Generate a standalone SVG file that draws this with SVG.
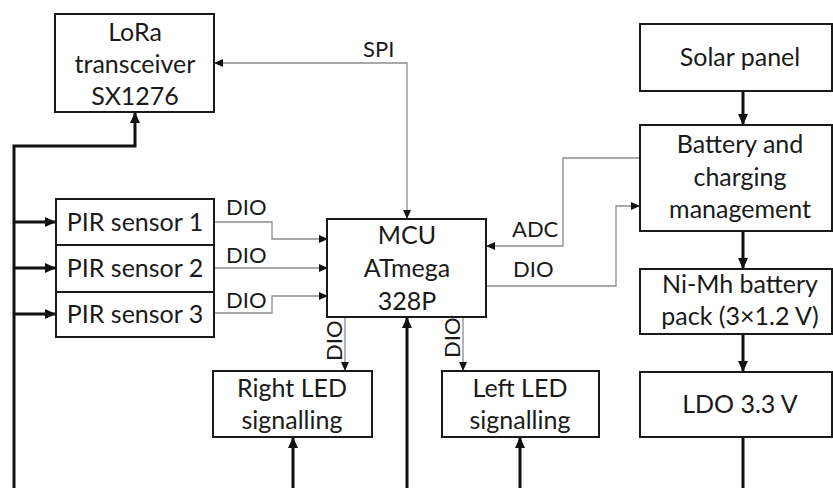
<svg xmlns="http://www.w3.org/2000/svg" width="833" height="488" viewBox="0 0 833 488">
<style>
.box{fill:#fff;stroke:#1a1a1a;stroke-width:2}
.t{font-family:Lato,"Open Sans",sans-serif;font-size:25px;fill:#1a1a1a;text-anchor:middle}
.l{font-family:Lato,"Open Sans",sans-serif;font-size:22px;fill:#1a1a1a}
.thin{fill:none;stroke:#8c8c8c;stroke-width:1.3}
.thick{fill:none;stroke:#111;stroke-width:3}
</style>
<defs>
<marker id="a" markerUnits="userSpaceOnUse" markerWidth="9" markerHeight="8" refX="9" refY="4" orient="auto-start-reverse"><path d="M0,0 L9,4 L0,8 z" fill="#111"/></marker>
<marker id="A" markerUnits="userSpaceOnUse" markerWidth="11" markerHeight="10" refX="11" refY="5" orient="auto"><path d="M0,0 L11,5 L0,10 z" fill="#111"/></marker>
</defs>
<rect width="833" height="488" fill="#fff"/>
<g id="connectors">
<path class="thin" d="M214,63 H407 V219" marker-start="url(#a)" marker-end="url(#a)"/>
<path class="thin" d="M214,222 H272 V239 H328" marker-end="url(#a)"/>
<path class="thin" d="M214,268 H328" marker-end="url(#a)"/>
<path class="thin" d="M214,313 H272 V296 H328" marker-end="url(#a)"/>
<path class="thin" d="M640,158 H563 V246 H486" marker-end="url(#a)"/>
<path class="thin" d="M486,286 H616 V206 H640" marker-end="url(#a)"/>
<path class="thin" d="M345,317 V371" marker-end="url(#a)"/>
<path class="thin" d="M463,317 V371" marker-end="url(#a)"/>
<path class="thick" d="M14,488 V146 H135 V112" marker-end="url(#A)"/>
<path class="thick" d="M14,222 H56" marker-end="url(#A)"/>
<path class="thick" d="M14,268 H56" marker-end="url(#A)"/>
<path class="thick" d="M14,314 H56" marker-end="url(#A)"/>
<path class="thick" d="M293,488 V437" marker-end="url(#A)"/>
<path class="thick" d="M407,488 V317" marker-end="url(#A)"/>
<path class="thick" d="M520,488 V437" marker-end="url(#A)"/>
<path class="thick" d="M743,437 V488"/>
<path class="thick" d="M743,91 V125" marker-end="url(#A)"/>
<path class="thick" d="M743,231 V269" marker-end="url(#A)"/>
<path class="thick" d="M743,334 V372" marker-end="url(#A)"/>
<text class="l" x="363" y="57">SPI</text>
<text class="l" x="226" y="215">DIO</text>
<text class="l" x="226" y="263">DIO</text>
<text class="l" x="226" y="308">DIO</text>
<text class="l" x="512" y="237">ADC</text>
<text class="l" x="513" y="277">DIO</text>
<text class="l" transform="translate(342,361) rotate(-90)">DIO</text>
<text class="l" transform="translate(460,358) rotate(-90)">DIO</text>
</g>
<g id="lora"><rect class="box" x="55" y="14" width="159" height="98"/>
<text class="t" x="135" y="41">LoRa</text><text class="t" x="135" y="73">transceiver</text><text class="t" x="135" y="105">SX1276</text></g>
<g id="pir1"><rect class="box" x="56" y="199" width="158" height="46"/><text class="t" x="135" y="231">PIR sensor 1</text></g>
<g id="pir2"><rect class="box" x="56" y="245" width="158" height="47"/><text class="t" x="135" y="277">PIR sensor 2</text></g>
<g id="pir3"><rect class="box" x="56" y="292" width="158" height="45"/><text class="t" x="135" y="323">PIR sensor 3</text></g>
<g id="mcu"><rect class="box" x="327" y="219" width="159" height="98"/>
<text class="t" x="407" y="244">MCU</text><text class="t" x="407" y="277">ATmega</text><text class="t" x="407" y="310">328P</text></g>
<g id="rightled"><rect class="box" x="213" y="371" width="159" height="66"/>
<text class="t" x="292" y="397">Right LED</text><text class="t" x="292" y="429">signalling</text></g>
<g id="leftled"><rect class="box" x="442" y="371" width="157" height="66"/>
<text class="t" x="520" y="397">Left LED</text><text class="t" x="520" y="429">signalling</text></g>
<g id="solar"><rect class="box" x="640" y="24" width="192" height="67"/><text class="t" x="740" y="66">Solar panel</text></g>
<g id="battery"><rect class="box" x="640" y="125" width="192" height="106"/>
<text class="t" x="740" y="153">Battery and</text><text class="t" x="740" y="186">charging</text><text class="t" x="740" y="218">management</text></g>
<g id="nimh"><rect class="box" x="640" y="269" width="192" height="65"/>
<text class="t" x="740" y="293">Ni-Mh battery</text><text class="t" x="740" y="325">pack (3×1.2 V)</text></g>
<g id="ldo"><rect class="box" x="640" y="372" width="192" height="65"/><text class="t" x="740" y="413">LDO 3.3 V</text></g>
</svg>
